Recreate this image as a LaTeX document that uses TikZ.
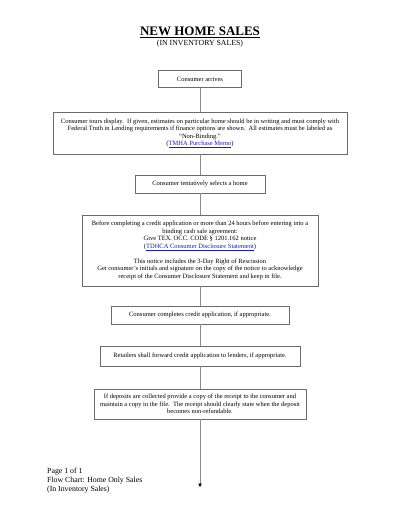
\documentclass[tikz,border=0pt]{standalone}
\usepackage{fontspec}
\setmainfont{Liberation Serif}
\usetikzlibrary{positioning, arrows.meta}
\definecolor{cbord}{gray}{0.42}
\definecolor{clien}{gray}{0.55}
\definecolor{clink}{rgb}{0.1,0.1,0.85}
\newcommand{\lienweb}[1]{\textcolor{clink}{\underline{#1}}}

\begin{document}
\begin{tikzpicture}[x=1pt, y=-1pt,
    etape/.style={draw=cbord, line width=0.8pt, fill=white, align=center,
                  font=\fontsize{6.5}{7.5}\selectfont, inner sep=2pt},
    lien/.style={clien, line width=0.9pt},
    fin/.style={lien, -{Triangle[length=3.5pt, width=3.5pt, black]}}]

  \useasboundingbox (0,0) rectangle (400,518);

  \node[font=\fontsize{13}{14}\selectfont\bfseries] (titre) at (200,32)
    {\underline{NEW HOME SALES}};
  \node[font=\fontsize{7.8}{9}\selectfont] (stitre) at (200,43.5)
    {(IN INVENTORY SALES)};

  \node[etape, minimum width=83pt, minimum height=17.5pt] (a) at (200,79)
    {Consumer arrives};
  \node[etape, minimum width=294pt, minimum height=42pt] (b) at (200,133)
    {Consumer tours display.\ \ If given, estimates on particular home should be in writing and must comply with\\
     Federal Truth in Lending requirements if finance options are shown.\ \ All estimates must be labeled as\\
     ``Non-Binding.''\\
     (\lienweb{TMHA Purchase Memo})};
  \node[etape, minimum width=130pt, minimum height=18pt] (c) at (200,184)
    {Consumer tentatively selects a home};
  \node[etape, minimum width=236pt, minimum height=71pt] (d) at (200,250.5)
    {Before completing a credit application or more than 24 hours before entering into a\\
     binding cash sale agreement:\\
     Give TEX. OCC. CODE \S\ 1201.162 notice\\
     (\lienweb{TDHCA Consumer Disclosure Statement})\\[7.5pt]
     This notice includes the 3-Day Right of Rescission\\
     Get consumer's initials and signature on the copy of the notice to acknowledge\\
     receipt of the Consumer Disclosure Statement and keep in file.};
  \node[etape, minimum width=178pt, minimum height=18pt] (e) at (200,315)
    {Consumer completes credit application, if appropriate.};
  \node[etape, minimum width=200pt, minimum height=20pt] (f) at (200,356)
    {Retailers shall forward credit application to lenders, if appropriate.};
  \node[etape, minimum width=212pt, minimum height=30pt] (g) at (200,404)
    {If deposits are collected provide a copy of the receipt to the consumer and\\
     maintain a copy in the file.\ \ The receipt should clearly state when the deposit\\
     becomes non-refundable.};
  \coordinate (bas) at (200,487);

  \draw[lien] (a) -- (b);
  \draw[lien] (b) -- (c);
  \draw[lien] (c) -- (d);
  \draw[lien] (d) -- (e);
  \draw[lien] (e) -- (f);
  \draw[lien] (f) -- (g);
  \draw[fin] (g) -- (bas);

  \node[font=\fontsize{7.8}{9}\selectfont, align=left, anchor=west, inner sep=0pt] (pied) at (47,481)
    {Page 1 of 1\\Flow Chart: Home Only Sales\\(In Inventory Sales)};
\end{tikzpicture}
\end{document}
